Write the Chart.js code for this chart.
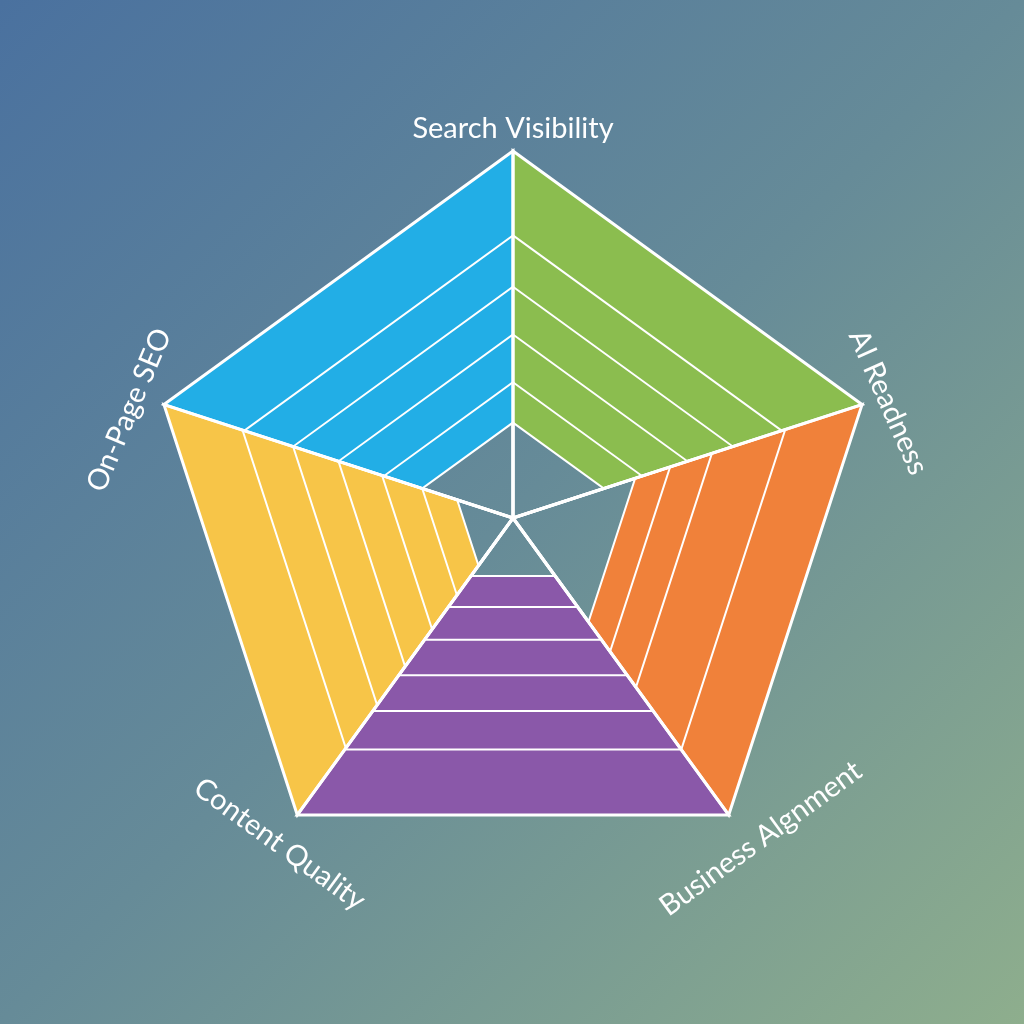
<!DOCTYPE html>
<html>
<head>
<meta charset="utf-8">
<script src="https://cdn.jsdelivr.net/npm/chart.js@4.4.1/dist/chart.umd.min.js"></script>
<style>
  html, body { margin: 0; padding: 0; }
  body {
    width: 1024px; height: 1024px; overflow: hidden;
    background: linear-gradient(135deg, #4a719f 0%, #668b98 50%, #8eae8d 100%);
  }
  canvas { display: block; }
</style>
</head>
<body>
<canvas id="radar" width="1024" height="1024"></canvas>
<script>
// axes, clockwise from the top
const axisLabels = ['Search Visibility', 'AI Readness', 'Business Algnment', 'Content Quality', 'On-Page SEO'];

// one coloured sector between each pair of neighbouring axes (green, orange, purple, yellow, blue)
const segmentColors = ['#8bbd4f', '#f0813a', '#8a58a9', '#f7c548', '#22aee6'];
const outerValues = [10, 10, 10, 10, 10];
const innerValues = [2.6, 3.5, 1.95, 1.6, 2.6];
const bandValues = [
    [7.7, 6.3, 5.0, 3.7],
    [7.8, 5.7, 4.5],
    [7.8, 6.5, 5.3, 4.1, 3.0],
    [7.75, 6.3, 5.0, 3.75, 2.6],
    [7.7, 6.3, 5.0, 3.7]
];

function sectorValues(seg, v) {
    const n = axisLabels.length;
    return axisLabels.map((_, i) => (i === seg || i === (seg + 1) % n) ? v : 0);
}

const datasets = [];
const innerIndex = [];

segmentColors.forEach((c, s) => {
    innerIndex[s] = datasets.length;
    datasets.push({ data: sectorValues(s, innerValues[s]), borderColor: '#ffffff', borderWidth: 2, fill: false, order: 2 });
});
segmentColors.forEach((c, s) => {
    datasets.push({ data: sectorValues(s, outerValues[s]), backgroundColor: c, borderColor: 'rgba(0,0,0,0)', borderWidth: 0, fill: innerIndex[s], order: 3 });
});
bandValues.forEach((vals, s) => {
    vals.forEach(v => {
        datasets.push({ data: sectorValues(s, v), borderColor: '#ffffff', borderWidth: 2, fill: false, order: 2 });
    });
});
segmentColors.forEach((c, s) => {
    datasets.push({ data: sectorValues(s, outerValues[s]), borderColor: '#ffffff', borderWidth: 3, fill: false, order: 1 });
});

const labelOffsets = [22, 25, 38, 34, 30];
const labelRotations = [0, 66, -36, 36, -67];
const labelShift = [0, 6, 12, 3, -16];

const tiltedLabels = {
    id: 'tiltedLabels',
    afterDatasetsDraw(chart) {
        const r = chart.scales.r;
        const ctx = chart.ctx;
        ctx.save();
        ctx.fillStyle = '#ffffff';
        ctx.font = '29px Lato';
        ctx.textAlign = 'center';
        ctx.textBaseline = 'middle';
        axisLabels.forEach((t, i) => {
            const p = r.getPointPosition(i, r.drawingArea + labelOffsets[i]);
            ctx.save();
            ctx.translate(p.x, p.y);
            ctx.rotate(labelRotations[i] * Math.PI / 180);
            ctx.fillText(t, labelShift[i], 0);
            ctx.restore();
        });
        ctx.restore();
    }
};

new Chart(document.getElementById('radar').getContext('2d'), {
    type: 'radar',
    data: { labels: axisLabels, datasets: datasets },
    options: {
        responsive: false,
        animation: false,
        events: [],
        layout: { padding: { left: 146, right: 144, top: 151, bottom: 139 } },
        elements: {
            point: { radius: 0, hoverRadius: 0 },
            line: { tension: 0, borderJoinStyle: 'miter' }
        },
        plugins: { legend: { display: false }, tooltip: { enabled: false } },
        scales: {
            r: {
                min: 0,
                max: 10,
                ticks: { display: false },
                grid: { display: false },
                angleLines: { color: '#ffffff', lineWidth: 3 },
                pointLabels: { display: false }
            }
        }
    },
    plugins: [tiltedLabels]
});
</script>
</body>
</html>
